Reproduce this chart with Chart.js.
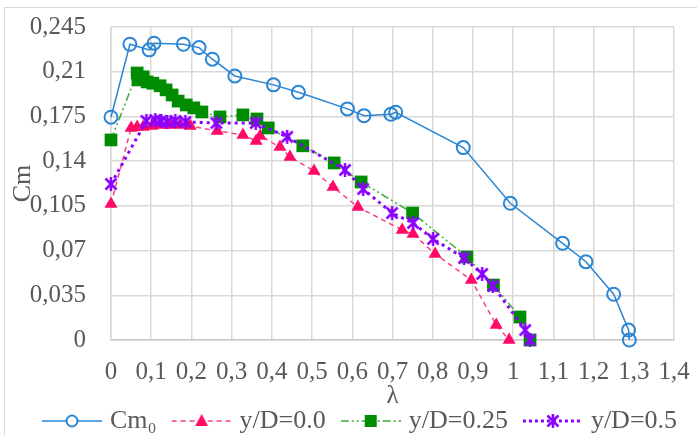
<!DOCTYPE html>
<html><head><meta charset="utf-8">
<script src="https://cdn.jsdelivr.net/npm/chart.js@4.4.1/dist/chart.umd.min.js"></script>
<style>
html,body{margin:0;padding:0;background:#fff;}
#wrap{position:relative;width:697px;height:436px;overflow:hidden;background:#fff;}
#frame{position:absolute;left:4px;top:7px;width:800px;height:500px;border-left:1.5px solid #d9d9d9;border-top:1.5px solid #d9d9d9;}
canvas{position:absolute;left:0;top:0;}
</style></head><body>
<div id="wrap"><div id="frame"></div><canvas id="c" width="697" height="436"></canvas></div>
<script>
// ---- data ----
const seriesNames = ['Cm\u2080', 'y/D=0.0', 'y/D=0.25', 'y/D=0.5'];

const cm0X = [0, 0.047, 0.095, 0.107, 0.18, 0.219, 0.252, 0.308, 0.404, 0.466, 0.588, 0.629, 0.696, 0.708, 0.876, 0.993, 1.123, 1.181, 1.25, 1.287, 1.289];
const cm0Y = [0.1744, 0.2315, 0.2271, 0.2323, 0.2315, 0.2289, 0.2198, 0.2067, 0.1997, 0.1939, 0.1809, 0.1756, 0.1767, 0.1783, 0.1506, 0.107, 0.0757, 0.0613, 0.0358, 0.0078, 0];

const y00X = [0, 0.05, 0.065, 0.08, 0.102, 0.122, 0.147, 0.172, 0.197, 0.264, 0.328, 0.361, 0.371, 0.42, 0.445, 0.505, 0.552, 0.614, 0.724, 0.751, 0.806, 0.896, 0.958, 0.99];
const y00Y = [0.1065, 0.166, 0.1668, 0.1668, 0.1676, 0.1683, 0.1683, 0.1683, 0.1676, 0.1636, 0.1605, 0.1558, 0.1597, 0.151, 0.1433, 0.1323, 0.1198, 0.1041, 0.0861, 0.083, 0.0673, 0.047, 0.0117, 0];

const y25X = [0, 0.065, 0.067, 0.08, 0.09, 0.104, 0.122, 0.137, 0.152, 0.167, 0.187, 0.206, 0.226, 0.271, 0.328, 0.363, 0.391, 0.477, 0.555, 0.622, 0.75, 0.885, 0.951, 1.017, 1.042];
const y25Y = [0.1566, 0.209, 0.2036, 0.206, 0.202, 0.201, 0.199, 0.1958, 0.1918, 0.187, 0.184, 0.1817, 0.1785, 0.1746, 0.1762, 0.173, 0.166, 0.152, 0.1386, 0.1237, 0.0994, 0.065, 0.043, 0.018, 0];

const y50X = [0, 0.088, 0.11, 0.125, 0.14, 0.16, 0.185, 0.262, 0.36, 0.438, 0.582, 0.627, 0.699, 0.751, 0.801, 0.878, 0.923, 0.95, 1.03, 1.042];
const y50Y = [0.1221, 0.1715, 0.1722, 0.1715, 0.1707, 0.1715, 0.1707, 0.1699, 0.1699, 0.159, 0.1331, 0.1182, 0.0994, 0.0916, 0.0791, 0.0642, 0.0517, 0.0423, 0.0078, 0];

const xTickValues = [0, 0.1, 0.2, 0.3, 0.4, 0.5, 0.6, 0.7, 0.8, 0.9, 1, 1.1, 1.2, 1.3, 1.4];
const xTickLabels = ['0', '0,1', '0,2', '0,3', '0,4', '0,5', '0,6', '0,7', '0,8', '0,9', '1', '1,1', '1,2', '1,3', '1,4'];
const yTickValues = [0, 0.035, 0.07, 0.105, 0.14, 0.175, 0.21, 0.245];
const yTickLabels = ['0', '0,035', '0,07', '0,105', '0,14', '0,175', '0,21', '0,245'];

// ---- styles ----
const BLUE = '#2a85d4', PINK = '#ff0a66', GREEN = '#008c00', PURPLE = '#8c00ff';
const SERIF = "'Liberation Serif', 'Times New Roman', serif";
const TXT = '#595959';

function pts(xs, ys) { return xs.map((x, i) => ({x: x, y: ys[i]})); }

function drawMarker(g, kind, cx, cy, color) {
  g.save();
  g.setLineDash([]);
  if (kind === 'circle') {
    g.strokeStyle = color; g.lineWidth = 2;
    g.beginPath(); g.arc(cx, cy, 5.5, 0, Math.PI * 2); g.fillStyle = '#fff'; g.fill(); g.stroke();
  } else if (kind === 'triangle') {
    g.fillStyle = color;
    g.beginPath(); g.moveTo(cx, cy - 7); g.lineTo(cx + 6.5, cy + 5); g.lineTo(cx - 6.5, cy + 5); g.closePath(); g.fill();
  } else if (kind === 'rect') {
    g.fillStyle = color; g.fillRect(cx - 6, cy - 6, 12, 12);
  } else if (kind === 'star') {
    g.strokeStyle = color; g.lineWidth = 2.5; g.lineCap = 'butt';
    const r = 7, d = 5.5;
    g.beginPath();
    g.moveTo(cx, cy - r); g.lineTo(cx, cy + r);
    g.moveTo(cx - d, cy - d); g.lineTo(cx + d, cy + d);
    g.moveTo(cx + d, cy - d); g.lineTo(cx - d, cy + d);
    g.stroke();
  }
  g.restore();
}

function starImage() {
  const c = document.createElement('canvas'); c.width = 18; c.height = 18;
  drawMarker(c.getContext('2d'), 'star', 9, 9, PURPLE);
  return c;
}

const legendStyles = [
  {kind: 'circle', color: BLUE, lineColor: BLUE, dash: [], width: 1.5},
  {kind: 'triangle', color: PINK, lineColor: '#ff3d85', dash: [5, 4], width: 1.5},
  {kind: 'rect', color: GREEN, lineColor: '#3aa83a', dash: [8, 3, 2, 3, 2, 3], width: 1.5},
  {kind: 'star', color: PURPLE, lineColor: PURPLE, dash: [3, 3], width: 3},
];
function legendImage(s) {
  const c = document.createElement('canvas'); c.width = 60; c.height = 20;
  const g = c.getContext('2d');
  g.strokeStyle = s.lineColor; g.lineWidth = s.width; g.setLineDash(s.dash);
  g.beginPath(); g.moveTo(0, 10); g.lineTo(60, 10); g.stroke();
  drawMarker(g, s.kind, 30, 10, s.color);
  return c;
}
const legendImgs = legendStyles.map(legendImage);

const shiftLegend = {
  id: 'shiftLegend',
  afterLayout(chart) {
    const lg = chart.legend; if (!lg) return;
    const dx = 25, dy = 0;
    lg.left += dx; lg.right += dx; lg.top += dy; lg.bottom += dy;
  }
};

const ctx = document.getElementById('c').getContext('2d');
new Chart(ctx, {
  type: 'line',
  data: {
    datasets: [
      {label: seriesNames[0], data: pts(cm0X, cm0Y), borderColor: BLUE, borderWidth: 1.5,
       pointStyle: 'circle', pointRadius: 6.5, pointBorderWidth: 2, pointBorderColor: BLUE,
       pointBackgroundColor: 'rgba(255,255,255,0)', order: 3},
      {label: seriesNames[1], data: pts(y00X, y00Y), borderColor: '#ff3d85', borderWidth: 1.5, borderDash: [5, 4],
       pointStyle: 'triangle', pointRadius: 7.5, pointBorderWidth: 0, pointBackgroundColor: PINK, pointBorderColor: PINK, order: 2},
      {label: seriesNames[2], data: pts(y25X, y25Y), borderColor: '#3aa83a', borderWidth: 1.5, borderDash: [8, 3, 2, 3, 2, 3],
       pointStyle: 'rect', pointRadius: 9, pointBorderWidth: 0, pointBackgroundColor: GREEN, pointBorderColor: GREEN, order: 1},
      {label: seriesNames[3], data: pts(y50X, y50Y), borderColor: PURPLE, borderWidth: 3, borderDash: [3, 4],
       pointStyle: starImage(), pointRadius: 8, order: 0},
    ]
  },
  options: {
    responsive: false, animation: false,
    clip: false,
    layout: {padding: {top: 27, right: 23, left: 0, bottom: -8}},
    elements: {line: {tension: 0, fill: false}},
    scales: {
      x: {
        type: 'linear', min: 0, max: 1.4,
        afterBuildTicks: s => { s.ticks = xTickValues.map(v => ({value: v})); },
        afterFit: s => { s.height = 48; s.paddingLeft = 0; s.paddingRight = 0; },
        ticks: {callback: (v, i) => xTickLabels[i], font: {family: SERIF, size: 25}, color: TXT, padding: 17, maxRotation: 0, autoSkip: false},
        grid: {color: '#d9d9d9', lineWidth: 1.5, drawTicks: false},
        border: {color: '#c8c8c8', width: 1.5},
        title: {display: true, text: 'λ', font: {family: SERIF, size: 25}, color: TXT, padding: {top: 0, bottom: -23}}
      },
      y: {
        type: 'linear', min: 0, max: 0.245,
        afterBuildTicks: s => { s.ticks = yTickValues.map(v => ({value: v})); },
        afterFit: s => { s.width = 111; s.paddingTop = 10; s.paddingBottom = 10; },
        ticks: {callback: (v, i) => yTickLabels[i], font: {family: SERIF, size: 25}, color: TXT, padding: 25},
        grid: {color: '#d9d9d9', lineWidth: 1.5, drawTicks: false},
        border: {color: '#d9d9d9', width: 1.5},
        title: {display: true, text: 'Cm', font: {family: SERIF, size: 26}, color: TXT, padding: {top: 8, bottom: 0}}
      }
    },
    plugins: {
      tooltip: {enabled: false},
      legend: {
        position: 'bottom',
        labels: {
          usePointStyle: true, pointStyleWidth: 50, boxHeight: 20, padding: 20,
          font: {family: SERIF, size: 26}, color: TXT,
          generateLabels: chart => {
            const items = Chart.defaults.plugins.legend.labels.generateLabels(chart);
            items.sort((a, b) => a.datasetIndex - b.datasetIndex);
            items.forEach(it => { it.pointStyle = legendImgs[it.datasetIndex]; it.fontColor = TXT; });
            return items;
          }
        }
      }
    }
  },
  plugins: [shiftLegend]
});
</script>
</body></html>
